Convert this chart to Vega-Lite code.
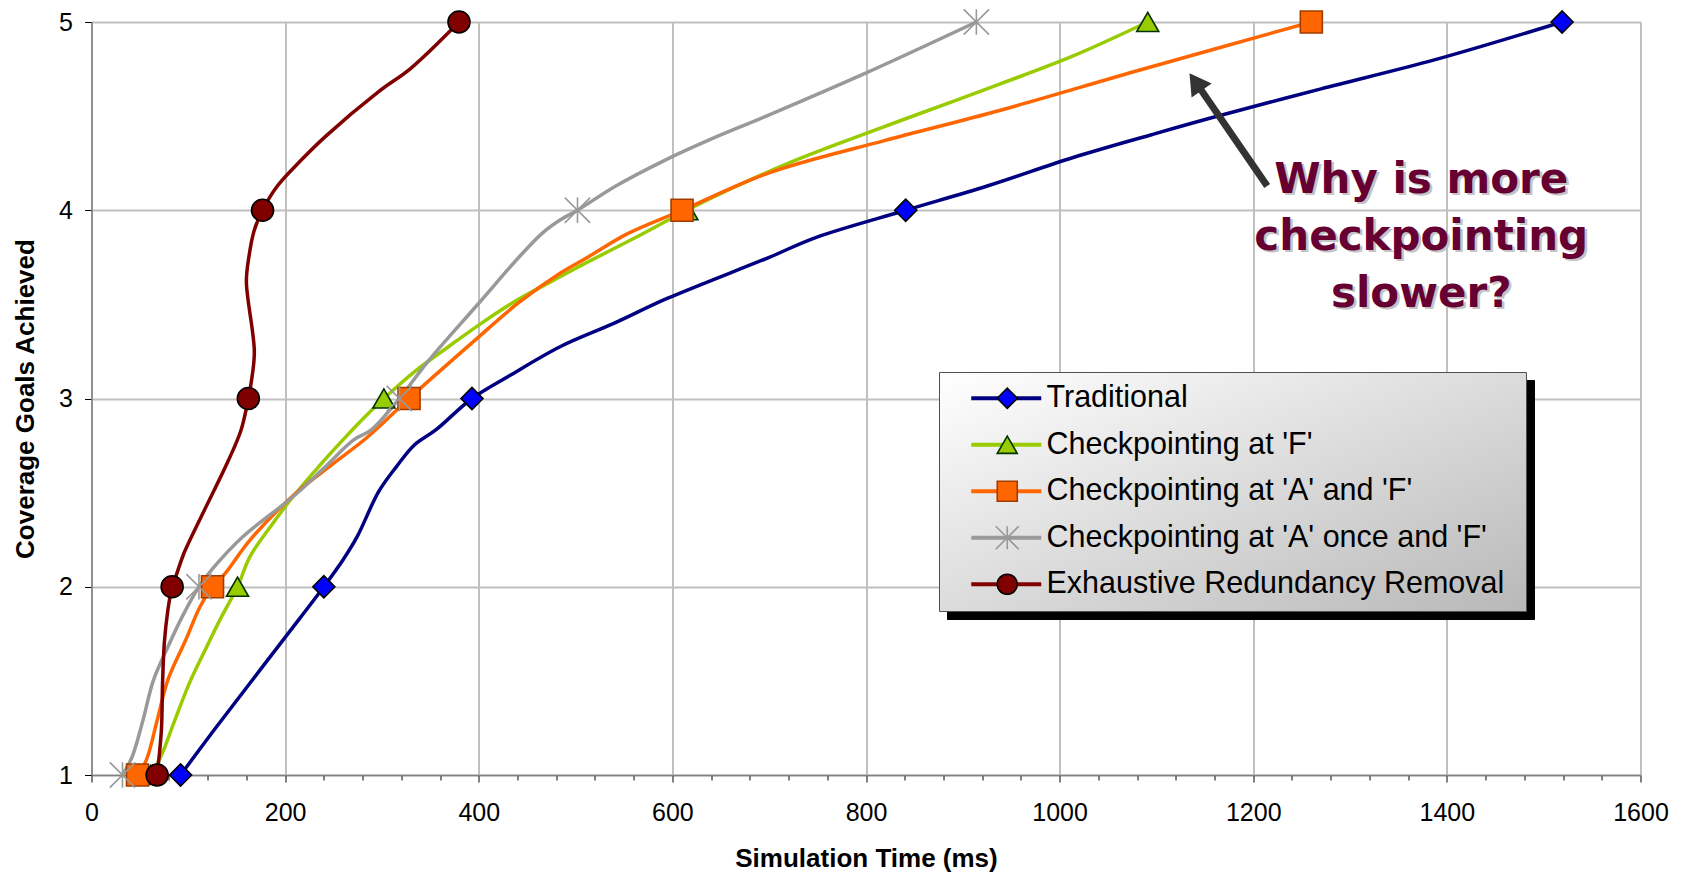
{
  "$schema": "https://vega.github.io/schema/vega-lite/v6.json",
  "width": 1549,
  "height": 753,
  "autosize": {"type": "none"},
  "padding": {"left": 91.5, "top": 22, "right": 42.5, "bottom": 98},
  "background": "white",
  "config": {
    "view": {"stroke": null},
    "axis": {
      "labelFont": "Liberation Sans",
      "labelFontSize": 25,
      "labelColor": "#000000",
      "titleFont": "Liberation Sans",
      "titleFontSize": 26,
      "titleFontWeight": "bold",
      "titleColor": "#000000",
      "domainColor": "#808080",
      "domainWidth": 1.5,
      "tickColor": "#000000",
      "tickWidth": 1,
      "gridColor": "#c0c0c0",
      "gridWidth": 2,
      "labelFlush": false,
      "labelOverlap": false
    },
    "legend": {
      "labelFont": "Liberation Sans",
      "labelFontSize": 30.5,
      "padding": 11,
      "rowPadding": 15.5,
      "labelLimit": 800
    }
  },
  "datasets": {
    "lines": [
      {"series": "Traditional", "order": 1, "x": 92, "y": 1},
      {"series": "Traditional", "order": 1, "x": 126.8, "y": 1.24},
      {"series": "Traditional", "order": 1, "x": 164, "y": 1.49},
      {"series": "Traditional", "order": 1, "x": 200.6, "y": 1.735},
      {"series": "Traditional", "order": 1, "x": 240, "y": 2},
      {"series": "Traditional", "order": 1, "x": 259.7, "y": 2.142},
      {"series": "Traditional", "order": 1, "x": 274.4, "y": 2.266},
      {"series": "Traditional", "order": 1, "x": 296.6, "y": 2.505},
      {"series": "Traditional", "order": 1, "x": 315, "y": 2.638},
      {"series": "Traditional", "order": 1, "x": 333.5, "y": 2.753},
      {"series": "Traditional", "order": 1, "x": 355.6, "y": 2.833},
      {"series": "Traditional", "order": 1, "x": 393, "y": 3},
      {"series": "Traditional", "order": 1, "x": 433, "y": 3.125},
      {"series": "Traditional", "order": 1, "x": 484, "y": 3.275},
      {"series": "Traditional", "order": 1, "x": 540, "y": 3.4},
      {"series": "Traditional", "order": 1, "x": 594, "y": 3.53},
      {"series": "Traditional", "order": 1, "x": 700, "y": 3.75},
      {"series": "Traditional", "order": 1, "x": 748, "y": 3.855},
      {"series": "Traditional", "order": 1, "x": 841, "y": 4},
      {"series": "Traditional", "order": 1, "x": 926, "y": 4.13},
      {"series": "Traditional", "order": 1, "x": 1014, "y": 4.28},
      {"series": "Traditional", "order": 1, "x": 1094, "y": 4.4},
      {"series": "Traditional", "order": 1, "x": 1156, "y": 4.49},
      {"series": "Traditional", "order": 1, "x": 1270, "y": 4.645},
      {"series": "Traditional", "order": 1, "x": 1388, "y": 4.8},
      {"series": "Traditional", "order": 1, "x": 1519, "y": 5},
      {"series": "Checkpointing at 'F'", "order": 2, "x": 61, "y": 1},
      {"series": "Checkpointing at 'F'", "order": 2, "x": 71.5, "y": 1.097},
      {"series": "Checkpointing at 'F'", "order": 2, "x": 86, "y": 1.29},
      {"series": "Checkpointing at 'F'", "order": 2, "x": 101, "y": 1.487},
      {"series": "Checkpointing at 'F'", "order": 2, "x": 117, "y": 1.66},
      {"series": "Checkpointing at 'F'", "order": 2, "x": 134.2, "y": 1.84},
      {"series": "Checkpointing at 'F'", "order": 2, "x": 150.8, "y": 2},
      {"series": "Checkpointing at 'F'", "order": 2, "x": 163.7, "y": 2.16},
      {"series": "Checkpointing at 'F'", "order": 2, "x": 185, "y": 2.32},
      {"series": "Checkpointing at 'F'", "order": 2, "x": 208.1, "y": 2.478},
      {"series": "Checkpointing at 'F'", "order": 2, "x": 235, "y": 2.64},
      {"series": "Checkpointing at 'F'", "order": 2, "x": 259.7, "y": 2.78},
      {"series": "Checkpointing at 'F'", "order": 2, "x": 280, "y": 2.89},
      {"series": "Checkpointing at 'F'", "order": 2, "x": 302, "y": 3},
      {"series": "Checkpointing at 'F'", "order": 2, "x": 333.5, "y": 3.142},
      {"series": "Checkpointing at 'F'", "order": 2, "x": 370, "y": 3.28},
      {"series": "Checkpointing at 'F'", "order": 2, "x": 400, "y": 3.39},
      {"series": "Checkpointing at 'F'", "order": 2, "x": 436.8, "y": 3.514},
      {"series": "Checkpointing at 'F'", "order": 2, "x": 484, "y": 3.647},
      {"series": "Checkpointing at 'F'", "order": 2, "x": 506.8, "y": 3.71},
      {"series": "Checkpointing at 'F'", "order": 2, "x": 560, "y": 3.85},
      {"series": "Checkpointing at 'F'", "order": 2, "x": 615, "y": 4},
      {"series": "Checkpointing at 'F'", "order": 2, "x": 665, "y": 4.125},
      {"series": "Checkpointing at 'F'", "order": 2, "x": 720, "y": 4.25},
      {"series": "Checkpointing at 'F'", "order": 2, "x": 780, "y": 4.37},
      {"series": "Checkpointing at 'F'", "order": 2, "x": 843, "y": 4.49},
      {"series": "Checkpointing at 'F'", "order": 2, "x": 938, "y": 4.67},
      {"series": "Checkpointing at 'F'", "order": 2, "x": 1014, "y": 4.82},
      {"series": "Checkpointing at 'F'", "order": 2, "x": 1091, "y": 5},
      {"series": "Checkpointing at 'A' and 'F'", "order": 3, "x": 47.5, "y": 1},
      {"series": "Checkpointing at 'A' and 'F'", "order": 3, "x": 56.7, "y": 1.08},
      {"series": "Checkpointing at 'A' and 'F'", "order": 3, "x": 67.8, "y": 1.29},
      {"series": "Checkpointing at 'A' and 'F'", "order": 3, "x": 78.9, "y": 1.505},
      {"series": "Checkpointing at 'A' and 'F'", "order": 3, "x": 97.3, "y": 1.717},
      {"series": "Checkpointing at 'A' and 'F'", "order": 3, "x": 112.1, "y": 1.894},
      {"series": "Checkpointing at 'A' and 'F'", "order": 3, "x": 125, "y": 2},
      {"series": "Checkpointing at 'A' and 'F'", "order": 3, "x": 137.9, "y": 2.07},
      {"series": "Checkpointing at 'A' and 'F'", "order": 3, "x": 163.7, "y": 2.248},
      {"series": "Checkpointing at 'A' and 'F'", "order": 3, "x": 211.7, "y": 2.5},
      {"series": "Checkpointing at 'A' and 'F'", "order": 3, "x": 250, "y": 2.655},
      {"series": "Checkpointing at 'A' and 'F'", "order": 3, "x": 285.5, "y": 2.797},
      {"series": "Checkpointing at 'A' and 'F'", "order": 3, "x": 328, "y": 3},
      {"series": "Checkpointing at 'A' and 'F'", "order": 3, "x": 396.2, "y": 3.31},
      {"series": "Checkpointing at 'A' and 'F'", "order": 3, "x": 440.5, "y": 3.506},
      {"series": "Checkpointing at 'A' and 'F'", "order": 3, "x": 484, "y": 3.665},
      {"series": "Checkpointing at 'A' and 'F'", "order": 3, "x": 510.8, "y": 3.745},
      {"series": "Checkpointing at 'A' and 'F'", "order": 3, "x": 554.3, "y": 3.877},
      {"series": "Checkpointing at 'A' and 'F'", "order": 3, "x": 610, "y": 4},
      {"series": "Checkpointing at 'A' and 'F'", "order": 3, "x": 700.5, "y": 4.2},
      {"series": "Checkpointing at 'A' and 'F'", "order": 3, "x": 819, "y": 4.37},
      {"series": "Checkpointing at 'A' and 'F'", "order": 3, "x": 938, "y": 4.53},
      {"series": "Checkpointing at 'A' and 'F'", "order": 3, "x": 1083, "y": 4.745},
      {"series": "Checkpointing at 'A' and 'F'", "order": 3, "x": 1260, "y": 5},
      {"series": "Checkpointing at 'A' once and 'F'", "order": 4, "x": 32, "y": 1},
      {"series": "Checkpointing at 'A' once and 'F'", "order": 4, "x": 42, "y": 1.097},
      {"series": "Checkpointing at 'A' once and 'F'", "order": 4, "x": 53.1, "y": 1.29},
      {"series": "Checkpointing at 'A' once and 'F'", "order": 4, "x": 64.1, "y": 1.505},
      {"series": "Checkpointing at 'A' once and 'F'", "order": 4, "x": 78.9, "y": 1.68},
      {"series": "Checkpointing at 'A' once and 'F'", "order": 4, "x": 93.6, "y": 1.84},
      {"series": "Checkpointing at 'A' once and 'F'", "order": 4, "x": 111, "y": 2},
      {"series": "Checkpointing at 'A' once and 'F'", "order": 4, "x": 126.9, "y": 2.107},
      {"series": "Checkpointing at 'A' once and 'F'", "order": 4, "x": 156.3, "y": 2.266},
      {"series": "Checkpointing at 'A' once and 'F'", "order": 4, "x": 208, "y": 2.478},
      {"series": "Checkpointing at 'A' once and 'F'", "order": 4, "x": 240, "y": 2.63},
      {"series": "Checkpointing at 'A' once and 'F'", "order": 4, "x": 270.8, "y": 2.78},
      {"series": "Checkpointing at 'A' once and 'F'", "order": 4, "x": 289, "y": 2.833},
      {"series": "Checkpointing at 'A' once and 'F'", "order": 4, "x": 318, "y": 3},
      {"series": "Checkpointing at 'A' once and 'F'", "order": 4, "x": 348, "y": 3.2},
      {"series": "Checkpointing at 'A' once and 'F'", "order": 4, "x": 400, "y": 3.506},
      {"series": "Checkpointing at 'A' once and 'F'", "order": 4, "x": 440.5, "y": 3.745},
      {"series": "Checkpointing at 'A' once and 'F'", "order": 4, "x": 466, "y": 3.88},
      {"series": "Checkpointing at 'A' once and 'F'", "order": 4, "x": 484, "y": 3.948},
      {"series": "Checkpointing at 'A' once and 'F'", "order": 4, "x": 502, "y": 4},
      {"series": "Checkpointing at 'A' once and 'F'", "order": 4, "x": 542, "y": 4.13},
      {"series": "Checkpointing at 'A' once and 'F'", "order": 4, "x": 590, "y": 4.26},
      {"series": "Checkpointing at 'A' once and 'F'", "order": 4, "x": 641, "y": 4.38},
      {"series": "Checkpointing at 'A' once and 'F'", "order": 4, "x": 697, "y": 4.5},
      {"series": "Checkpointing at 'A' once and 'F'", "order": 4, "x": 799, "y": 4.727},
      {"series": "Checkpointing at 'A' once and 'F'", "order": 4, "x": 914, "y": 5},
      {"series": "Exhaustive Redundancy Removal", "order": 5, "x": 67.8, "y": 1},
      {"series": "Exhaustive Redundancy Removal", "order": 5, "x": 72.2, "y": 1.24},
      {"series": "Exhaustive Redundancy Removal", "order": 5, "x": 73.4, "y": 1.487},
      {"series": "Exhaustive Redundancy Removal", "order": 5, "x": 75.2, "y": 1.7},
      {"series": "Exhaustive Redundancy Removal", "order": 5, "x": 78.9, "y": 1.877},
      {"series": "Exhaustive Redundancy Removal", "order": 5, "x": 83.3, "y": 2},
      {"series": "Exhaustive Redundancy Removal", "order": 5, "x": 88.1, "y": 2.07},
      {"series": "Exhaustive Redundancy Removal", "order": 5, "x": 95.5, "y": 2.178},
      {"series": "Exhaustive Redundancy Removal", "order": 5, "x": 106.5, "y": 2.3},
      {"series": "Exhaustive Redundancy Removal", "order": 5, "x": 126.8, "y": 2.514},
      {"series": "Exhaustive Redundancy Removal", "order": 5, "x": 141.6, "y": 2.673},
      {"series": "Exhaustive Redundancy Removal", "order": 5, "x": 154.5, "y": 2.833},
      {"series": "Exhaustive Redundancy Removal", "order": 5, "x": 162, "y": 3},
      {"series": "Exhaustive Redundancy Removal", "order": 5, "x": 164.8, "y": 3.08},
      {"series": "Exhaustive Redundancy Removal", "order": 5, "x": 168.2, "y": 3.249},
      {"series": "Exhaustive Redundancy Removal", "order": 5, "x": 160, "y": 3.62},
      {"series": "Exhaustive Redundancy Removal", "order": 5, "x": 162.6, "y": 3.753},
      {"series": "Exhaustive Redundancy Removal", "order": 5, "x": 168.2, "y": 3.895},
      {"series": "Exhaustive Redundancy Removal", "order": 5, "x": 176.7, "y": 4},
      {"series": "Exhaustive Redundancy Removal", "order": 5, "x": 191.4, "y": 4.125},
      {"series": "Exhaustive Redundancy Removal", "order": 5, "x": 215.4, "y": 4.26},
      {"series": "Exhaustive Redundancy Removal", "order": 5, "x": 241.2, "y": 4.39},
      {"series": "Exhaustive Redundancy Removal", "order": 5, "x": 296.6, "y": 4.63},
      {"series": "Exhaustive Redundancy Removal", "order": 5, "x": 329.8, "y": 4.754},
      {"series": "Exhaustive Redundancy Removal", "order": 5, "x": 379.6, "y": 5}
    ],
    "markers": [
      {"series": "Traditional", "order": 1, "x": 92, "y": 1},
      {"series": "Traditional", "order": 1, "x": 240, "y": 2},
      {"series": "Traditional", "order": 1, "x": 393, "y": 3},
      {"series": "Traditional", "order": 1, "x": 841, "y": 4},
      {"series": "Traditional", "order": 1, "x": 1519, "y": 5},
      {"series": "Checkpointing at 'F'", "order": 2, "x": 61, "y": 1},
      {"series": "Checkpointing at 'F'", "order": 2, "x": 150.8, "y": 2},
      {"series": "Checkpointing at 'F'", "order": 2, "x": 302, "y": 3},
      {"series": "Checkpointing at 'F'", "order": 2, "x": 615, "y": 4},
      {"series": "Checkpointing at 'F'", "order": 2, "x": 1091, "y": 5},
      {"series": "Checkpointing at 'A' and 'F'", "order": 3, "x": 47.5, "y": 1},
      {"series": "Checkpointing at 'A' and 'F'", "order": 3, "x": 125, "y": 2},
      {"series": "Checkpointing at 'A' and 'F'", "order": 3, "x": 328, "y": 3},
      {"series": "Checkpointing at 'A' and 'F'", "order": 3, "x": 610, "y": 4},
      {"series": "Checkpointing at 'A' and 'F'", "order": 3, "x": 1260, "y": 5},
      {"series": "Checkpointing at 'A' once and 'F'", "order": 4, "x": 32, "y": 1},
      {"series": "Checkpointing at 'A' once and 'F'", "order": 4, "x": 111, "y": 2},
      {"series": "Checkpointing at 'A' once and 'F'", "order": 4, "x": 318, "y": 3},
      {"series": "Checkpointing at 'A' once and 'F'", "order": 4, "x": 502, "y": 4},
      {"series": "Checkpointing at 'A' once and 'F'", "order": 4, "x": 914, "y": 5},
      {"series": "Exhaustive Redundancy Removal", "order": 5, "x": 67.8, "y": 1},
      {"series": "Exhaustive Redundancy Removal", "order": 5, "x": 83.3, "y": 2},
      {"series": "Exhaustive Redundancy Removal", "order": 5, "x": 162, "y": 3},
      {"series": "Exhaustive Redundancy Removal", "order": 5, "x": 176.7, "y": 4},
      {"series": "Exhaustive Redundancy Removal", "order": 5, "x": 379.6, "y": 5}
    ]
  },
  "encoding": {
    "x": {
      "field": "x",
      "type": "quantitative",
      "scale": {"domain": [0, 1600], "nice": false, "zero": false},
      "axis": {
        "values": [0, 40, 80, 120, 160, 200, 240, 280, 320, 360, 400, 440, 480, 520, 560, 600, 640, 680, 720, 760, 800, 840, 880, 920, 960, 1000, 1040, 1080, 1120, 1160, 1200, 1240, 1280, 1320, 1360, 1400, 1440, 1480, 1520, 1560, 1600],
        "labelExpr": "datum.value % 200 === 0 ? datum.label : ''",
        "format": "d",
        "tickSize": {"condition": {"test": "datum.value % 200 === 0", "value": 7}, "value": 5},
        "gridOpacity": {"condition": {"test": "datum.value % 200 === 0", "value": 1}, "value": 0},
        "labelPadding": 18,
        "title": "Simulation Time (ms)",
        "titlePadding": 20
      }
    },
    "y": {
      "field": "y",
      "type": "quantitative",
      "scale": {"domain": [1, 5], "nice": false, "zero": false},
      "axis": {
        "values": [1, 2, 3, 4, 5],
        "format": "d",
        "tickSize": 7,
        "labelPadding": 12,
        "title": "Coverage Goals Achieved",
        "titlePadding": 20
      }
    }
  },
  "layer": [
    {
      "data": {"name": "lines"},
      "mark": {"type": "line", "opacity": 0},
      "encoding": {
        "strokeDash": {
          "field": "series",
          "type": "nominal",
          "sort": {"field": "order", "op": "min"},
          "scale": {"range": [[1, 0], [1, 0], [1, 0], [1, 0], [1, 0]]},
          "legend": {
            "orient": "none", "legendX": 855.5, "legendY": 358, "title": null,
            "symbolType": "M-3.5,0H3.5", "symbolSize": 400, "symbolStrokeWidth": 4,
            "symbolOffset": 41, "labelOffset": 493, "labelExpr": "' '",
            "symbolOpacity": 0,
            "fillColor": "#000000", "strokeColor": "#000000"
          }
        }
      }
    },
    {
      "data": {"name": "lines"},
      "mark": {"type": "line", "strokeWidth": 3.5, "interpolate": "catmull-rom"},
      "encoding": {
        "order": {"field": "y", "type": "quantitative"},
        "color": {
          "field": "series",
          "type": "nominal",
          "scale": {
            "domain": ["Traditional", "Checkpointing at 'F'", "Checkpointing at 'A' and 'F'", "Checkpointing at 'A' once and 'F'", "Exhaustive Redundancy Removal"],
            "range": ["#000080", "#99cc00", "#ff6600", "#999999", "#800000"]
          },
          "legend": {
            "orient": "none", "legendX": 847.5, "legendY": 350, "title": null,
            "symbolType": "M-3.5,0H3.5", "symbolSize": 400, "symbolStrokeWidth": 4,
            "symbolOffset": 41, "labelOffset": 493, "labelExpr": "' '",
            "strokeColor": "#505050", "fillColor": "#e8e8e8",
            "encode": {
              "legend": {
                "update": {
                  "fill": {"value": {"gradient": "linear", "x1": 0, "y1": 0, "x2": 1, "y2": 1,
                    "stops": [{"offset": 0, "color": "#ffffff"}, {"offset": 1, "color": "#b8b8b8"}]}}
                }
              }
            }
          }
        }
      }
    },
    {
      "data": {"name": "markers"},
      "mark": {"type": "point", "filled": true, "size": 484, "strokeWidth": 1.6, "opacity": 1},
      "encoding": {
        "shape": {
          "field": "series", "type": "nominal", "sort": {"field": "order", "op": "min"},
          "scale": {"range": ["diamond", "triangle-up", "square", "M0,-1.15V1.15M-1.15,-1.15L1.15,1.15M-1.15,1.15L1.15,-1.15", "circle"]},
          "legend": {
            "orient": "none", "legendX": 847.5, "legendY": 350, "title": null,
            "symbolSize": 400, "symbolStrokeWidth": 1.6, "symbolOffset": 42, "labelOffset": 24,
            "labelColor": "#000000", "fillColor": null, "strokeColor": null
          }
        },
        "fill": {
          "field": "series", "type": "nominal", "sort": {"field": "order", "op": "min"},
          "scale": {"range": ["#0000ff", "#99cc00", "#ff6600", "#999999", "#800000"]},
          "legend": {
            "orient": "none", "legendX": 847.5, "legendY": 350, "title": null,
            "symbolSize": 400, "symbolStrokeWidth": 1.6, "symbolOffset": 42, "labelOffset": 24,
            "labelColor": "#000000", "fillColor": null, "strokeColor": null
          }
        },
        "stroke": {
          "field": "series", "type": "nominal", "sort": {"field": "order", "op": "min"},
          "scale": {"range": ["#000000", "#003300", "#a03c00", "#999999", "#000000"]},
          "legend": {
            "orient": "none", "legendX": 847.5, "legendY": 350, "title": null,
            "symbolSize": 400, "symbolStrokeWidth": 1.6, "symbolOffset": 42, "labelOffset": 24,
            "labelColor": "#000000", "fillColor": null, "strokeColor": null
          }
        }
      }
    },
    {
      "data": {"values": [{"x": 1214.4, "y": 4.129, "x2": 1140.4, "y2": 4.682}]},
      "mark": {"type": "rule", "color": "#333333", "strokeWidth": 7},
      "encoding": {"x2": {"field": "x2"}, "y2": {"field": "y2"}}
    },
    {
      "data": {"values": [{"x": 1140.4, "y": 4.682}]},
      "mark": {"type": "point", "shape": "triangle-up", "angle": -35, "size": 600, "filled": true, "color": "#333333", "opacity": 1}
    },
    {
      "data": {"values": [{"x": 1373.5, "y": 4.092, "t": "Why is more\ncheckpointing\nslower?"}]},
      "mark": {"type": "text", "font": "DejaVu Sans", "fontWeight": "bold", "fontSize": 42, "align": "center", "baseline": "alphabetic", "lineBreak": "\n", "lineHeight": 57, "color": "#c4c4c4", "dx": 2.5, "dy": 2.5},
      "encoding": {"text": {"field": "t"}}
    },
    {
      "data": {"values": [{"x": 1373.5, "y": 4.092, "t": "Why is more\ncheckpointing\nslower?"}]},
      "mark": {"type": "text", "font": "DejaVu Sans", "fontWeight": "bold", "fontSize": 42, "align": "center", "baseline": "alphabetic", "lineBreak": "\n", "lineHeight": 57, "color": "#660033"},
      "encoding": {"text": {"field": "t"}}
    }
  ]
}
